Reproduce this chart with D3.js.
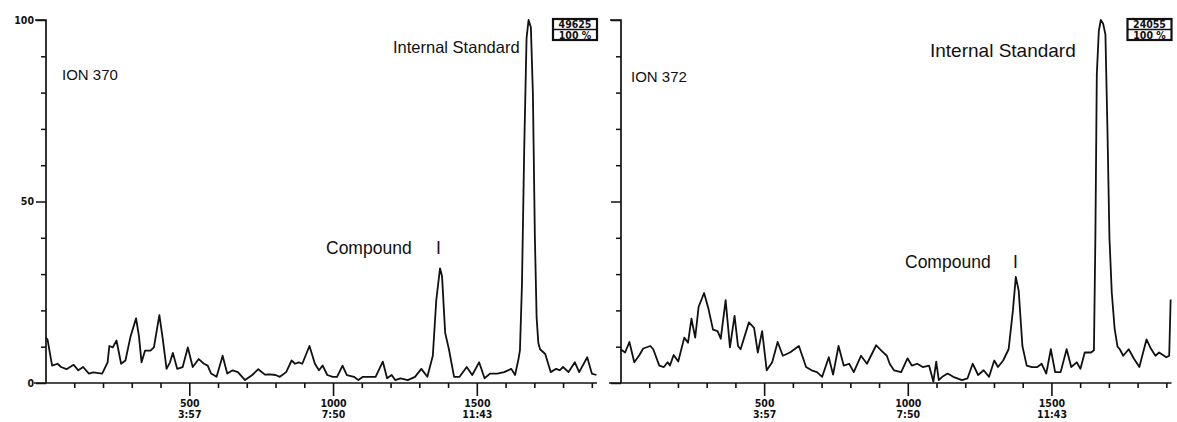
<!DOCTYPE html>
<html>
<head>
<meta charset="utf-8">
<script src="https://cdn.jsdelivr.net/npm/d3@7"></script>
<style>
  body { margin: 0; background: #fff; }
  svg { display: block; }
  .lbl { font-family: "Liberation Sans", Arial, sans-serif; fill: #111; }
  .tick-lbl { font-family: "DejaVu Sans Condensed", "Liberation Sans Narrow", sans-serif; font-weight: bold; fill: #111; }
</style>
</head>
<body>
<svg id="chart" width="1177" height="422"></svg>
<script>
// ion chromatograms, [scan, relative abundance %]
const ion370 = [
  [0, 12.5], [7, 12.0], [23, 4.8], [42, 5.3], [54, 4.4], [73, 3.8], [98, 5.0], [114, 3.5],
  [131, 4.4], [151, 2.6], [166, 2.9], [197, 2.6], [216, 5.7], [222, 10.2], [234, 9.8], [247, 11.7],
  [263, 5.3], [278, 6.2], [296, 12.9], [315, 17.8], [325, 12.9], [334, 5.7], [346, 8.9], [365, 8.9],
  [377, 9.8], [396, 18.7], [408, 12.0], [421, 3.9], [433, 5.7], [443, 8.3], [458, 3.9], [477, 4.4],
  [495, 9.8], [512, 4.4], [533, 6.6], [551, 5.3], [564, 4.8], [576, 2.6], [595, 1.7], [616, 7.5],
  [632, 2.6], [651, 3.5], [669, 3.0], [694, 0.8], [719, 2.2], [740, 3.8], [763, 2.3], [781, 2.4],
  [800, 2.2], [815, 1.7], [837, 3.0], [856, 6.2], [868, 5.3], [881, 5.7], [893, 5.3], [918, 10.2],
  [937, 5.3], [951, 3.5], [964, 4.8], [980, 2.2], [999, 1.7], [1014, 1.7], [1033, 4.8], [1048, 2.2],
  [1073, 1.7], [1088, 0.8], [1104, 1.7], [1148, 1.7], [1173, 5.9], [1188, 1.3], [1204, 2.2], [1216, 0.8],
  [1235, 1.3], [1260, 0.8], [1285, 1.7], [1307, 3.9], [1328, 1.7], [1347, 7.5], [1359, 22.8], [1372, 31.6],
  [1379, 29.5], [1390, 13.8], [1403, 9.3], [1421, 1.7], [1440, 1.7], [1465, 4.4], [1484, 2.2], [1508, 5.7],
  [1527, 1.3], [1546, 2.6], [1571, 2.6], [1595, 3.0], [1620, 3.9], [1633, 2.2], [1645, 6.6], [1650, 9],
  [1657, 27], [1665, 65], [1673, 95], [1680, 100], [1688, 98], [1695, 80], [1702, 40], [1708, 18],
  [1714, 11], [1720, 9.3], [1738, 8.0], [1757, 3.0], [1776, 3.9], [1788, 3.5], [1800, 4.4], [1819, 3.0],
  [1841, 5.7], [1856, 3.0], [1884, 7.1], [1900, 2.6], [1916, 2.2]
]

const ion372 = [
  [0, 9.3], [16, 8.4], [31, 11.3], [48, 5.7], [66, 7.7], [79, 9.5], [104, 10.2], [114, 9.3],
  [135, 4.8], [151, 4.4], [164, 5.7], [172, 4.8], [185, 7.7], [201, 5.9], [222, 12.5], [235, 11.1],
  [247, 17.7], [260, 12.5], [272, 21.0], [291, 24.8], [306, 20.5], [322, 14.7], [338, 14.3], [349, 12.2],
  [366, 22.8], [381, 9.8], [397, 18.5], [409, 10.2], [418, 9.3], [447, 16.7], [465, 15.2], [478, 8.4],
  [493, 14.3], [509, 3.5], [528, 5.7], [547, 11.3], [565, 7.5], [590, 8.4], [621, 10.2], [646, 4.4],
  [665, 3.5], [684, 3.0], [702, 1.7], [725, 7.1], [740, 2.3], [759, 10.2], [777, 4.8], [796, 5.3],
  [812, 3.0], [837, 7.5], [858, 5.3], [890, 10.4], [908, 8.9], [927, 7.5], [937, 5.3], [952, 3.5],
  [977, 3.0], [999, 6.8], [1014, 4.8], [1033, 5.3], [1052, 4.4], [1074, 4.8], [1089, 0.4], [1099, 5.9],
  [1108, 0.8], [1120, 1.7], [1139, 2.6], [1158, 1.7], [1189, 0.8], [1208, 1.3], [1226, 5.3], [1245, 2.2],
  [1264, 3.5], [1283, 1.7], [1301, 6.2], [1314, 4.4], [1332, 6.2], [1351, 9.3], [1366, 20], [1376, 29.2],
  [1386, 25.5], [1399, 10.2], [1414, 4.8], [1432, 4.4], [1451, 4.4], [1466, 5.3], [1482, 2.6], [1498, 9.3],
  [1513, 3.0], [1532, 3.0], [1553, 9.3], [1569, 4.4], [1588, 5.7], [1601, 3.9], [1616, 8.4], [1638, 8.4],
  [1648, 9], [1653, 40], [1658, 85], [1665, 97], [1672, 100], [1680, 99], [1688, 96], [1695, 70],
  [1702, 40], [1710, 25], [1720, 15], [1730, 10], [1738, 9.3], [1750, 7.5], [1769, 9.3], [1788, 6.6],
  [1806, 4.4], [1831, 12], [1844, 9.8], [1862, 7.5], [1875, 8.4], [1900, 7.1], [1910, 7.5], [1915, 23]
]

const scanMajor = [500, 1000, 1500]
const timeLabels = ['3:57', '7:50', '11:43']
const yMajor = [0, 50, 100]
const panelInfo = [
  { ion: 'ION 370', counts: '49625', data: ion370 },
  { ion: 'ION 372', counts: '24055', data: ion372 }
]

const svg = d3.select('#chart')
const y = d3.scaleLinear().domain([0, 100]).range([383, 20])

// label spots
const panels = [
  { x0: 45.5, x1: 597, yAxisX: 46, labelled: true, ionPos: [62, 80], isPos: [393, 53], isSize: 16.5,
    cmpPos: [326, 254], iPos: 436, cmpSize: 17.5 },
  { x0: 620.5, x1: 1171.5, yAxisX: 621, labelled: false, ionPos: [631, 82], isPos: [930, 57], isSize: 19,
    cmpPos: [905, 268], iPos: 1013, cmpSize: 17.5 }
]

panels.forEach((p, i) => {
	const info = panelInfo[i]
	const x = d3.scaleLinear().domain([0, 1918]).range([p.x0, p.x1])
	const g = svg.append('g')

	// x axis line, runs a little left of the y axis
	g.append('line')
		.attr('x1', p.yAxisX - 12).attr('x2', p.x1)
		.attr('y1', y(0)).attr('y2', y(0))
		.attr('stroke', '#111').attr('stroke-width', 1.7)

	// minor scan ticks
	const minor = d3.axisBottom(x)
		.tickValues(d3.range(100, 1901, 100).filter(v => !scanMajor.includes(v)))
		.tickSize(5).tickSizeOuter(0).tickFormat('')
	g.append('g').attr('transform', `translate(0,${y(0)})`).call(minor)
		.call(s => s.select('.domain').remove())
		.call(s => s.selectAll('line').attr('stroke', '#111').attr('stroke-width', 1.6))

	// major scan ticks with scan / time labels
	const major = d3.axisBottom(x).tickValues(scanMajor).tickSize(13).tickSizeOuter(0).tickFormat('')
	const mg = g.append('g').attr('transform', `translate(0,${y(0)})`).call(major)
	mg.select('.domain').remove()
	mg.selectAll('line').attr('stroke', '#111').attr('stroke-width', 1.6)
	mg.selectAll('.tick').each(function(d, k) {
		const t = d3.select(this)
		t.append('text').attr('class', 'tick-lbl').attr('y', 24).attr('text-anchor', 'middle')
			.attr('font-size', 10.5).text(d)
		t.append('text').attr('class', 'tick-lbl').attr('y', 35).attr('text-anchor', 'middle')
			.attr('font-size', 10.5).text(timeLabels[k])
	})

	// y axis, with the little top corner
	g.append('path')
		.attr('d', `M ${p.yAxisX - 11} ${y(100)} L ${p.yAxisX} ${y(100)} L ${p.yAxisX} ${y(0)}`)
		.attr('fill', 'none').attr('stroke', '#111').attr('stroke-width', 1.7)

	const yMinor = d3.axisLeft(y).tickValues(d3.range(10, 100, 10).filter(v => v !== 50))
		.tickSize(5).tickSizeOuter(0).tickFormat('')
	g.append('g').attr('transform', `translate(${p.yAxisX},0)`).call(yMinor)
		.call(s => s.select('.domain').remove())
		.call(s => s.selectAll('line').attr('stroke', '#111').attr('stroke-width', 1.5))

	const yMaj = d3.axisLeft(y).tickValues(yMajor).tickSize(10).tickSizeOuter(0)
		.tickFormat(p.labelled ? d => d : '')
	const yg = g.append('g').attr('transform', `translate(${p.yAxisX},0)`).call(yMaj)
	yg.select('.domain').remove()
	yg.selectAll('line').attr('stroke', '#111').attr('stroke-width', 1.5)
	yg.selectAll('text').attr('class', 'tick-lbl').attr('font-size', 10.5).attr('x', -12)
		.attr('font-family', null)

	// trace
	const line = d3.line().x(d => x(d[0])).y(d => y(d[1]))
	g.append('path').datum(info.data)
		.attr('d', line)
		.attr('fill', 'none').attr('stroke', '#111').attr('stroke-width', 1.8)
		.attr('stroke-linejoin', 'round')

	// annotations
	g.append('text').attr('class', 'lbl').attr('x', p.ionPos[0]).attr('y', p.ionPos[1])
		.attr('font-size', 15).text(info.ion)
	g.append('text').attr('class', 'lbl').attr('x', p.isPos[0]).attr('y', p.isPos[1])
		.attr('font-size', p.isSize).text('Internal Standard')
	g.append('text').attr('class', 'lbl').attr('x', p.cmpPos[0]).attr('y', p.cmpPos[1])
		.attr('font-size', p.cmpSize).text('Compound')
	g.append('text').attr('class', 'lbl').attr('x', p.iPos).attr('y', p.cmpPos[1])
		.attr('font-size', p.cmpSize).text('I')

	// counts box in the top right corner
	const bx = p.x1 - 44, by = 19, bw = 44, bh = 21
	g.append('rect').attr('x', bx).attr('y', by).attr('width', bw).attr('height', bh)
		.attr('fill', '#fff').attr('stroke', '#111').attr('stroke-width', 2.2)
	g.append('line').attr('x1', bx).attr('x2', bx + bw).attr('y1', by + bh / 2).attr('y2', by + bh / 2)
		.attr('stroke', '#111').attr('stroke-width', 1.4)
	g.append('text').attr('class', 'tick-lbl').attr('x', bx + bw / 2).attr('y', by + 9)
		.attr('text-anchor', 'middle').attr('font-size', 10.5).text(info.counts)
	g.append('text').attr('class', 'tick-lbl').attr('x', bx + bw / 2).attr('y', by + 19.5)
		.attr('text-anchor', 'middle').attr('font-size', 10.5).attr('xml:space', 'preserve').text('100 %')
})
</script>
</body>
</html>
